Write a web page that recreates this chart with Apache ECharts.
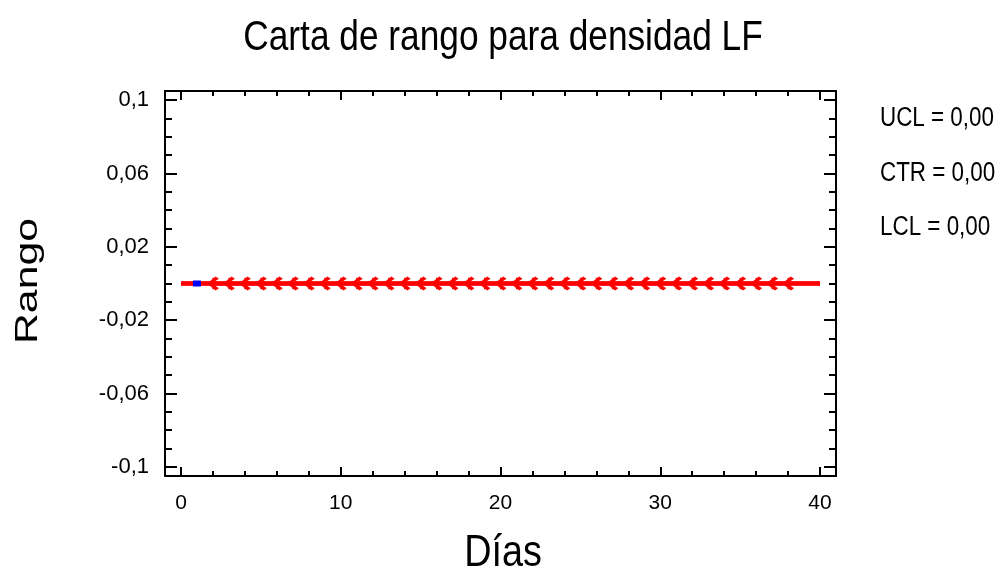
<!DOCTYPE html>
<html>
<head>
<meta charset="utf-8">
<script src="https://cdn.jsdelivr.net/npm/echarts@6/dist/echarts.min.js"></script>
<style>html,body{margin:0;padding:0;background:#fff;}#c{width:1003px;height:577px;}</style>
</head>
<body>
<div id="c"></div>
<script>
// ---- data ----
const titleText = 'Carta de rango para densidad LF';
const xName = 'Días';
const yName = 'Rango';
const days = [1,2,3,4,5,6,7,8,9,10,11,12,13,14,15,16,17,18,19,20,21,22,23,24,25,26,27,28,29,30,31,32,33,34,35,36,37,38];
const ranges = [0,0,0,0,0,0,0,0,0,0,0,0,0,0,0,0,0,0,0,0,0,0,0,0,0,0,0,0,0,0,0,0,0,0,0,0,0,0];
const limitNames = ['UCL','CTR','LCL'];
const limitValues = [0, 0, 0];
const limitSpan = [0, 40];
const xTicks = [0,10,20,30,40];
const xMinorTicks = [0,2,4,6,8,10,12,14,16,18,20,22,24,26,28,30,32,34,36,38,40];
const yTicks = [-0.1,-0.06,-0.02,0.02,0.06,0.1];
const yMinorTicks = [-0.1,-0.09,-0.08,-0.07,-0.06,-0.05,-0.04,-0.03,-0.02,-0.01,0,0.01,0.02,0.03,0.04,0.05,0.06,0.07,0.08,0.09,0.1];
const xRange = [-1, 41];
const yRange = [-0.105, 0.105];

// ---- chart ----
const chart = echarts.init(document.getElementById('c'), null, {renderer:'canvas'});
const fmt = v => String(v).replace('.', ',');
const lineStyle = {color:'#000', width:2};
const labelFont = '"Liberation Sans", Arial, sans-serif';
function mkX(pos, ticks, len, labels, showLine){
  return {type:'value', position:pos, min:xRange[0], max:xRange[1], gridIndex:0,
    axisLine:{show:showLine, onZero:false, lineStyle},
    axisTick:{show:true, inside:true, length:len, customValues:ticks, lineStyle:{color:'#000', width:2}},
    axisLabel:{show:labels, customValues:ticks, formatter:fmt, color:'#000', fontFamily:labelFont, fontSize:21, margin:17},
    splitLine:{show:false}, minorTick:{show:false}};
}
function mkY(pos, ticks, len, labels, showLine){
  return {type:'value', position:pos, min:yRange[0], max:yRange[1], gridIndex:0,
    axisLine:{show:showLine, onZero:false, lineStyle},
    axisTick:{show:true, inside:true, length:len, customValues:ticks, lineStyle:{color:'#000', width:2}},
    axisLabel:{show:labels, customValues:ticks, formatter:fmt, color:'#000', fontFamily:labelFont, fontSize:22, margin:16},
    splitLine:{show:false}, minorTick:{show:false}};
}
const markerPath = 'path://M8,0 L11,2 L4.5,6 L11,10 L8,12 L0,6 Z M5,1 L7.5,1 L7.5,11 L5,11 Z';
const pointData = days.map((d, i) => {
  if (i === 0) return {value:[d, ranges[i]], symbol:'rect', symbolSize:[8,6], itemStyle:{color:'#0000ff'}};
  return {value:[d, ranges[i]]};
});
const limitSeries = limitValues.map((v, i) => ({
  name: limitNames[i], type:'line', xAxisIndex:0, yAxisIndex:0, symbol:'none', silent:true,
  data: limitSpan.map(x => [x, v]), lineStyle:{color:'#ff0000', width:4}, z:3, animation:false
}));
const narrow = (size) => size + 'px "Liberation Sans", Arial, sans-serif';
const sideTexts = limitNames.map((n, i) => ({
  type:'text', x:880, y:119 + i*54.5, scaleX:0.83,
  style:{text: n + ' = ' + limitValues[i].toFixed(2).replace('.', ','), font:narrow(27), fill:'#000', align:'left', verticalAlign:'middle'}
}));
chart.setOption({
  animation:false,
  backgroundColor:'#fff',
  grid:{left:165, top:91, right:167, bottom:101, containLabel:false},
  xAxis:[mkX('bottom', xTicks, 9, true, true), mkX('bottom', xMinorTicks, 5, false, false), mkX('top', xTicks, 9, false, true), mkX('top', xMinorTicks, 5, false, false)],
  yAxis:[mkY('left', yTicks, 12, true, true), mkY('left', yMinorTicks, 7, false, false), mkY('right', yTicks, 12, false, true), mkY('right', yMinorTicks, 7, false, false)],
  series: limitSeries.concat([{
    name:'Rango', type:'line', xAxisIndex:0, yAxisIndex:0, data:pointData,
    symbol:markerPath, symbolSize:[12,14], showSymbol:true,
    itemStyle:{color:'#ff0000'}, lineStyle:{color:'#ff0000', width:1}, z:4
  }]),
  graphic: sideTexts.concat([
    {type:'text', x:503, y:38, scaleX:0.82, style:{text:titleText, font:narrow(43), fill:'#000', align:'center', verticalAlign:'middle'}},
    {type:'text', x:503, y:554, scaleX:0.84, style:{text:xName, font:narrow(45), fill:'#000', align:'center', verticalAlign:'middle'}},
    {type:'text', x:28, y:281, rotation:Math.PI/2, scaleX:1.38, style:{text:yName, font:'31px "Liberation Sans", Arial, sans-serif', fill:'#000', align:'center', verticalAlign:'middle'}}
  ])
});
</script>
</body>
</html>
